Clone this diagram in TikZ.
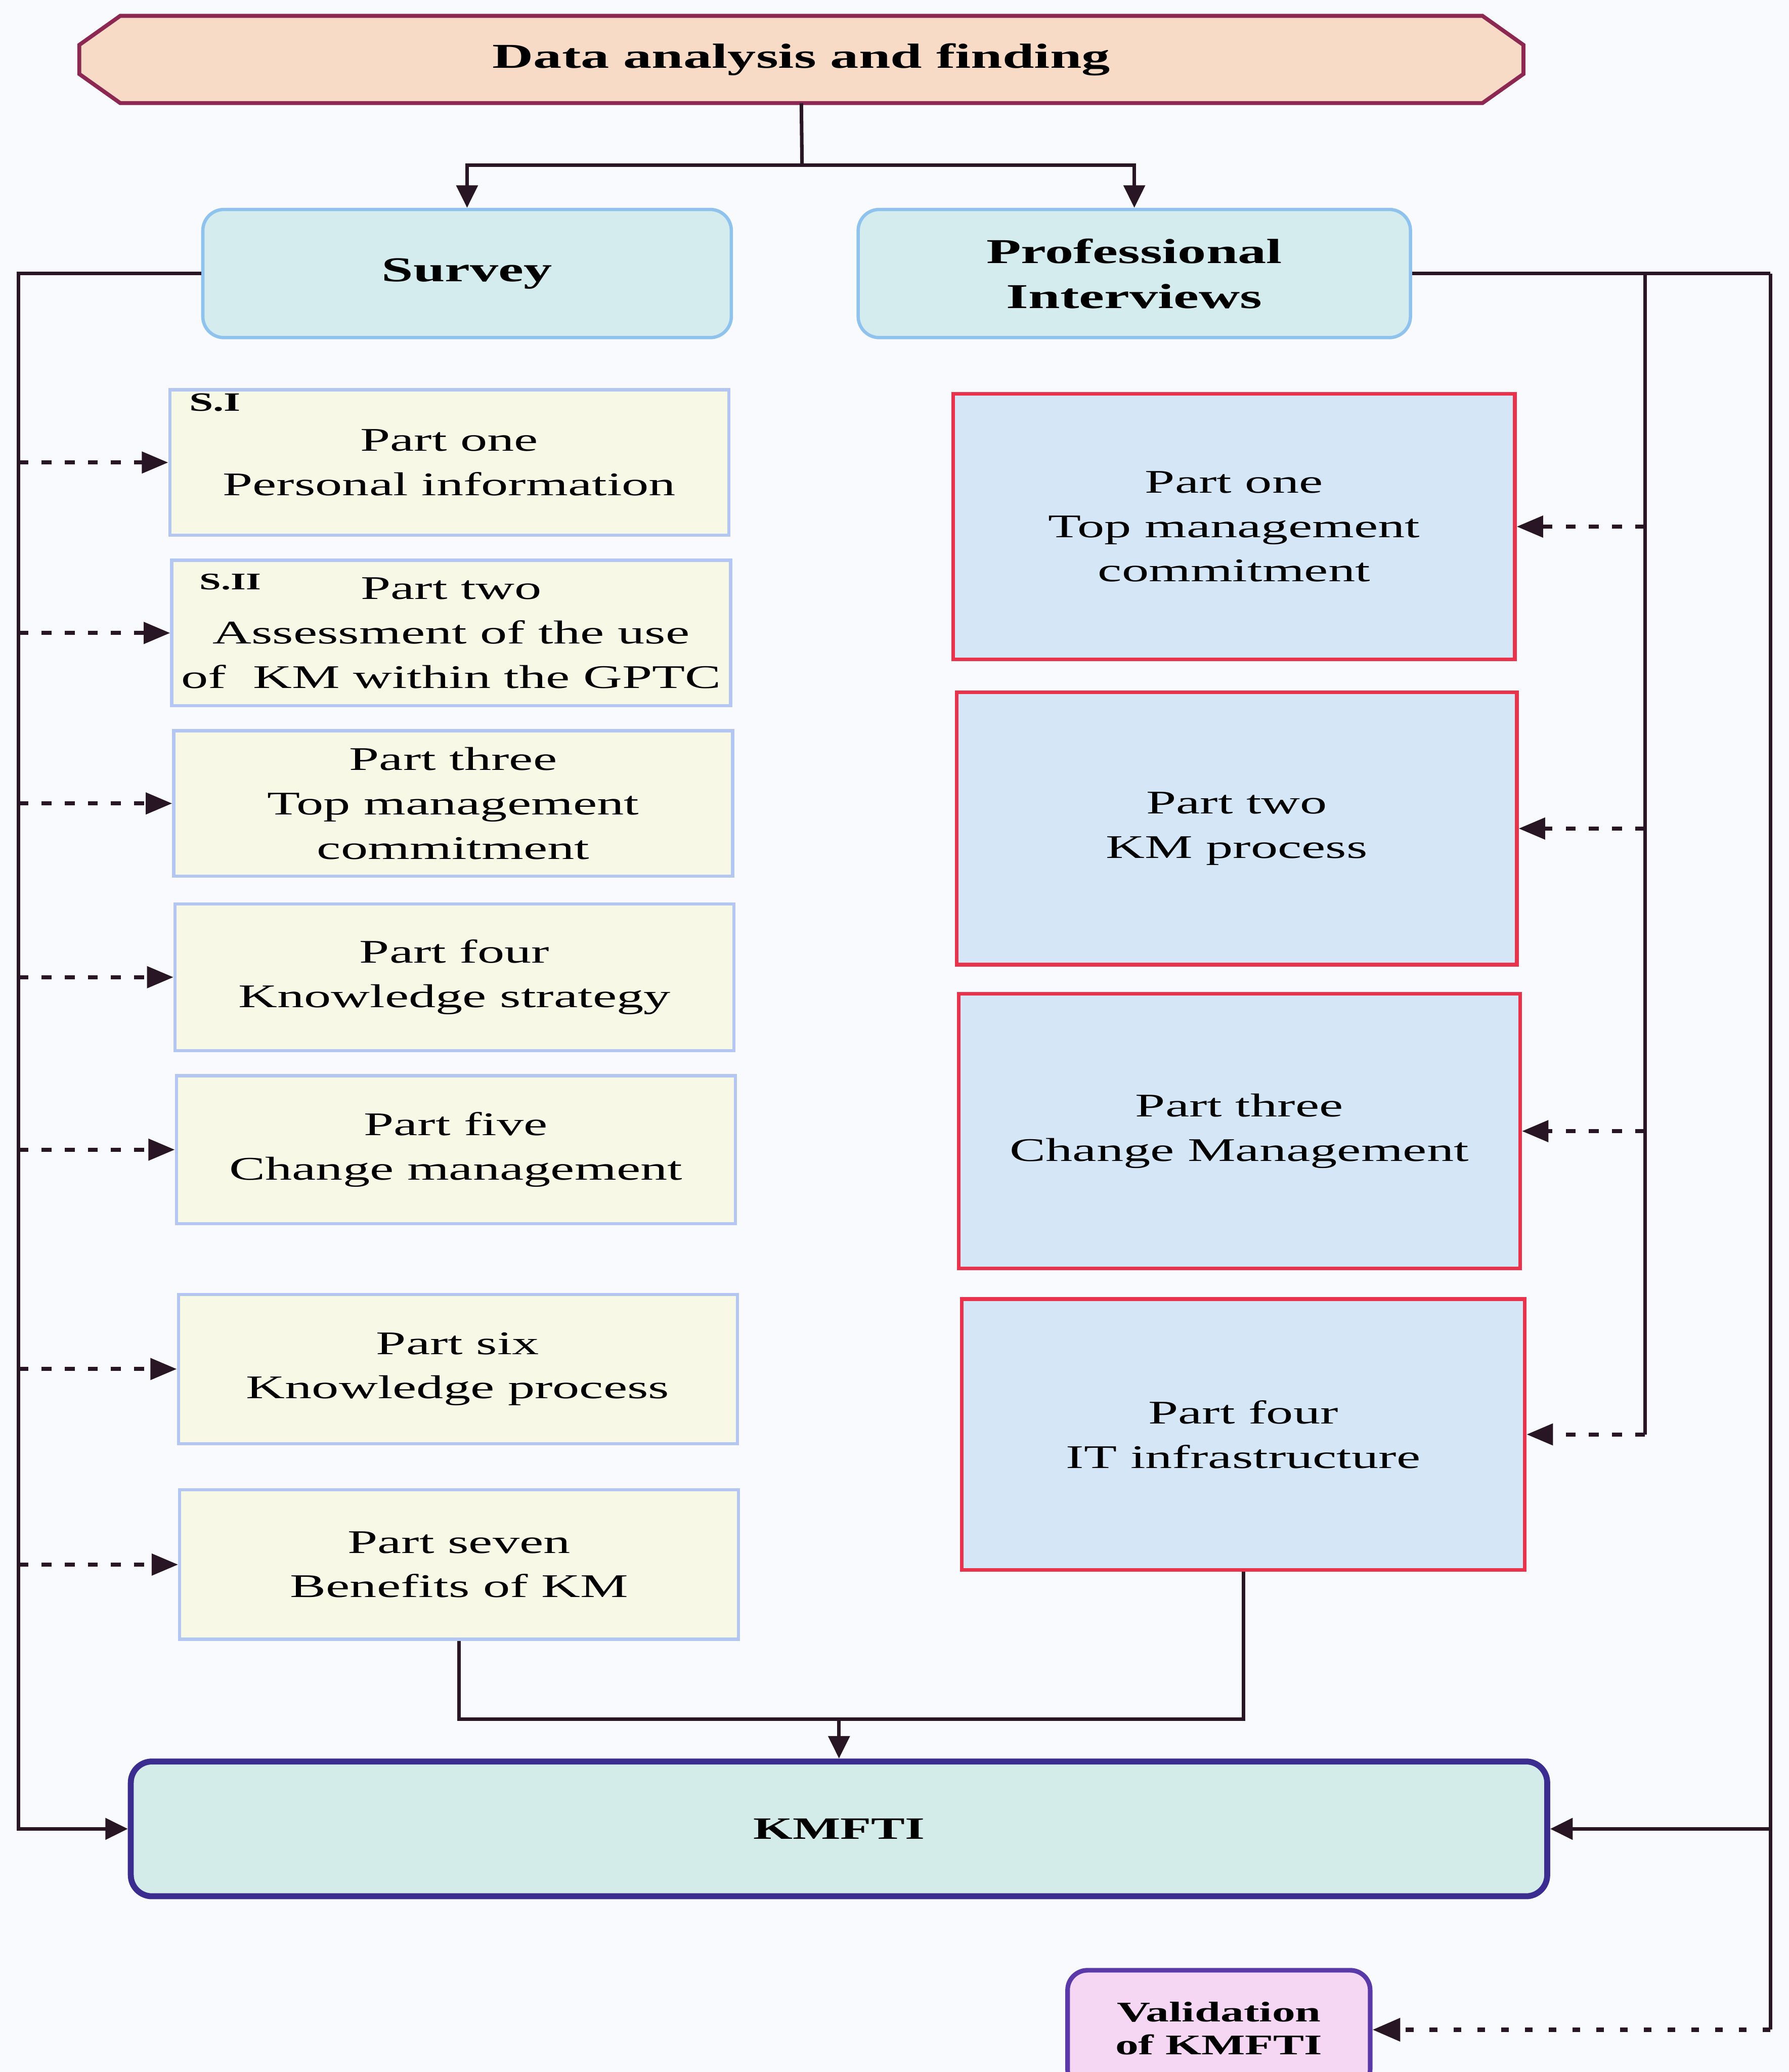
\documentclass[tikz,border=0pt]{standalone}
\usepackage{fontspec}
\setmainfont[FakeStretch=1.63]{Liberation Serif}
\usetikzlibrary{arrows.meta}

\definecolor{pagebg}{RGB}{249,250,253}
\definecolor{linecol}{RGB}{40,22,36}
\definecolor{bannerfill}{RGB}{248,219,198}
\definecolor{bannerline}{RGB}{140,40,82}
\definecolor{headfill}{RGB}{212,236,238}
\definecolor{headline}{RGB}{143,195,238}
\definecolor{sfill}{RGB}{248,248,231}
\definecolor{sline}{RGB}{180,198,242}
\definecolor{pfill}{RGB}{213,231,247}
\definecolor{pline}{RGB}{233,51,77}
\definecolor{kfill}{RGB}{212,236,233}
\definecolor{kline}{RGB}{58,45,143}
\definecolor{vfill}{RGB}{245,214,243}
\definecolor{vline}{RGB}{90,58,168}

\begin{document}
\begin{tikzpicture}[x=1pt,y=-1pt,
  conn/.style={draw=linecol, line width=2.7pt},
  arr/.style={conn, -{Triangle[length=17pt,width=16pt]}},
  darr/.style={draw=linecol, line width=3pt, dash pattern=on 7.5pt off 10pt,
    -{Triangle[length=20pt,width=16pt]}},
  dotarr/.style={draw=linecol, line width=3.6pt, dash pattern=on 6pt off 12pt,
    -{Triangle[length=21pt,width=17pt]}},
  bannershape/.style={draw=bannerline, fill=bannerfill, line width=3pt},
  bannertext/.style={font=\bfseries\fontsize{26.4}{30}\selectfont,
    minimum width=1093pt, minimum height=66pt, inner sep=0pt},
  headbox/.style={draw=headline, fill=headfill, line width=2.5pt,
    rounded corners=16pt, inner sep=0pt, align=center,
    font=\bfseries\fontsize{26.4}{34}\selectfont, minimum height=97pt},
  sbox/.style={draw=sline, fill=sfill, line width=2.4pt, inner sep=0pt,
    align=center, font=\fontsize{25}{33.6}\selectfont,
    minimum width=423pt, minimum height=110pt},
  pbox/.style={draw=pline, fill=pfill, line width=2.8pt, inner sep=0pt,
    align=center, font=\fontsize{25}{33.6}\selectfont,
    minimum width=425pt, minimum height=205pt},
  seclabel/.style={anchor=base west, inner sep=0pt, font=\bfseries},
  kbox/.style={draw=kline, fill=kfill, line width=4.5pt, rounded corners=16pt,
    inner sep=0pt, font=\bfseries\fontsize{23.5}{28}\selectfont,
    minimum width=1072pt, minimum height=102pt},
  vbox/.style={draw=vline, fill=vfill, line width=3.5pt, rounded corners=15pt,
    inner sep=0pt, minimum width=229pt, minimum height=90pt},
  vtext/.style={inner sep=0pt, align=center,
    font=\bfseries\fontsize{21.5}{25}\selectfont}
]
\useasboundingbox (0,0) rectangle (1354,1568);
\fill[pagebg] (0,0) rectangle (1354,1568);

% heading banner with chamfered ends
\path[bannershape] (91,12) -- (1122,12) -- (1153,34) -- (1153,56)
  -- (1122,78) -- (91,78) -- (60,56) -- (60,34) -- cycle;
\node[bannertext] (banner) at (606.5,45) {Data analysis and finding};

% the two data collection methods
\node[headbox, minimum width=400pt] (survey) at (353.5,207) {Survey};
\node[headbox, minimum width=418pt] (prof) at (858.5,207) {Professional\\Interviews};

% survey sections
\node[sbox] (s1) at (340,350) {Part one\\Personal information};
\node[seclabel, font=\bfseries\fontsize{20}{20}\selectfont] (si) at (143,311) {S.I};
\node[sbox] (s2) at (341.5,479) {Part two\\Assessment of the use\\of\ \ KM within the GPTC};
\node[seclabel, font=\bfseries\fontsize{18}{18}\selectfont] (sii) at (151,446) {S.II};
\node[sbox] (s3) at (343,608) {Part three\\Top management\\commitment};
\node[sbox, minimum height=111pt] (s4) at (344,739.5) {Part four\\Knowledge strategy};
\node[sbox, minimum height=112pt] (s5) at (345,870) {Part five\\Change management};
\node[sbox, minimum height=113pt] (s6) at (346.5,1036) {Part six\\Knowledge process};
\node[sbox, minimum height=113pt] (s7) at (347.5,1184) {Part seven\\Benefits of KM};

% interview parts
\node[pbox, minimum height=201pt] (p1) at (934,398.5) {Part one\\Top management\\commitment};
\node[pbox, minimum width=424pt, minimum height=206pt] (p2) at (936,627) {Part two\\KM process};
\node[pbox, minimum height=208pt] (p3) at (938,856) {Part three\\Change Management};
\node[pbox, minimum width=426pt] (p4) at (941,1085.5) {Part four\\IT infrastructure};

% framework and its validation
\node[kbox] (kmfti) at (635,1384) {KMFTI};
\node[vbox] (valid) at (922.5,1536) {};
\node[vtext] (validtext) at (922.5,1535) {Validation\\of KMFTI};

% routing points
\coordinate (split) at (607,125);
\coordinate (lefttop) at (14,207);
\coordinate (rin) at (1245,207);
\coordinate (rout) at (1340,207);
\coordinate (merge) at (635,1301);

% banner to the two methods
\draw[conn] (banner.south) -- (split);
\draw[arr] (split) -| (survey.north);
\draw[arr] (split) -| (prof.north);

% survey branch
\draw[arr] (survey.west) -- (lefttop) |- (kmfti.west);
\foreach \b in {s1,s2,s3,s4,s5,s6,s7}
  \draw[darr] (lefttop |- \b.west) -- (\b.west);

% interview branch
\draw[conn] (prof.east) -- (rout);
\draw[conn] (rin) -- (rin |- p4.east);
\foreach \b in {p1,p2,p3,p4}
  \draw[darr] (rin |- \b.east) -- (\b.east);
\draw[arr] (rout) |- (kmfti.east);
\draw[conn] (rout |- kmfti.east) -- (rout |- valid.east);
\draw[dotarr] (rout |- valid.east) -- (valid.east);

% both branches merge into the framework
\draw[conn] (s7.south) |- (merge) -| (p4.south);
\draw[arr] (merge) -- (kmfti.north);
\end{tikzpicture}
\end{document}
